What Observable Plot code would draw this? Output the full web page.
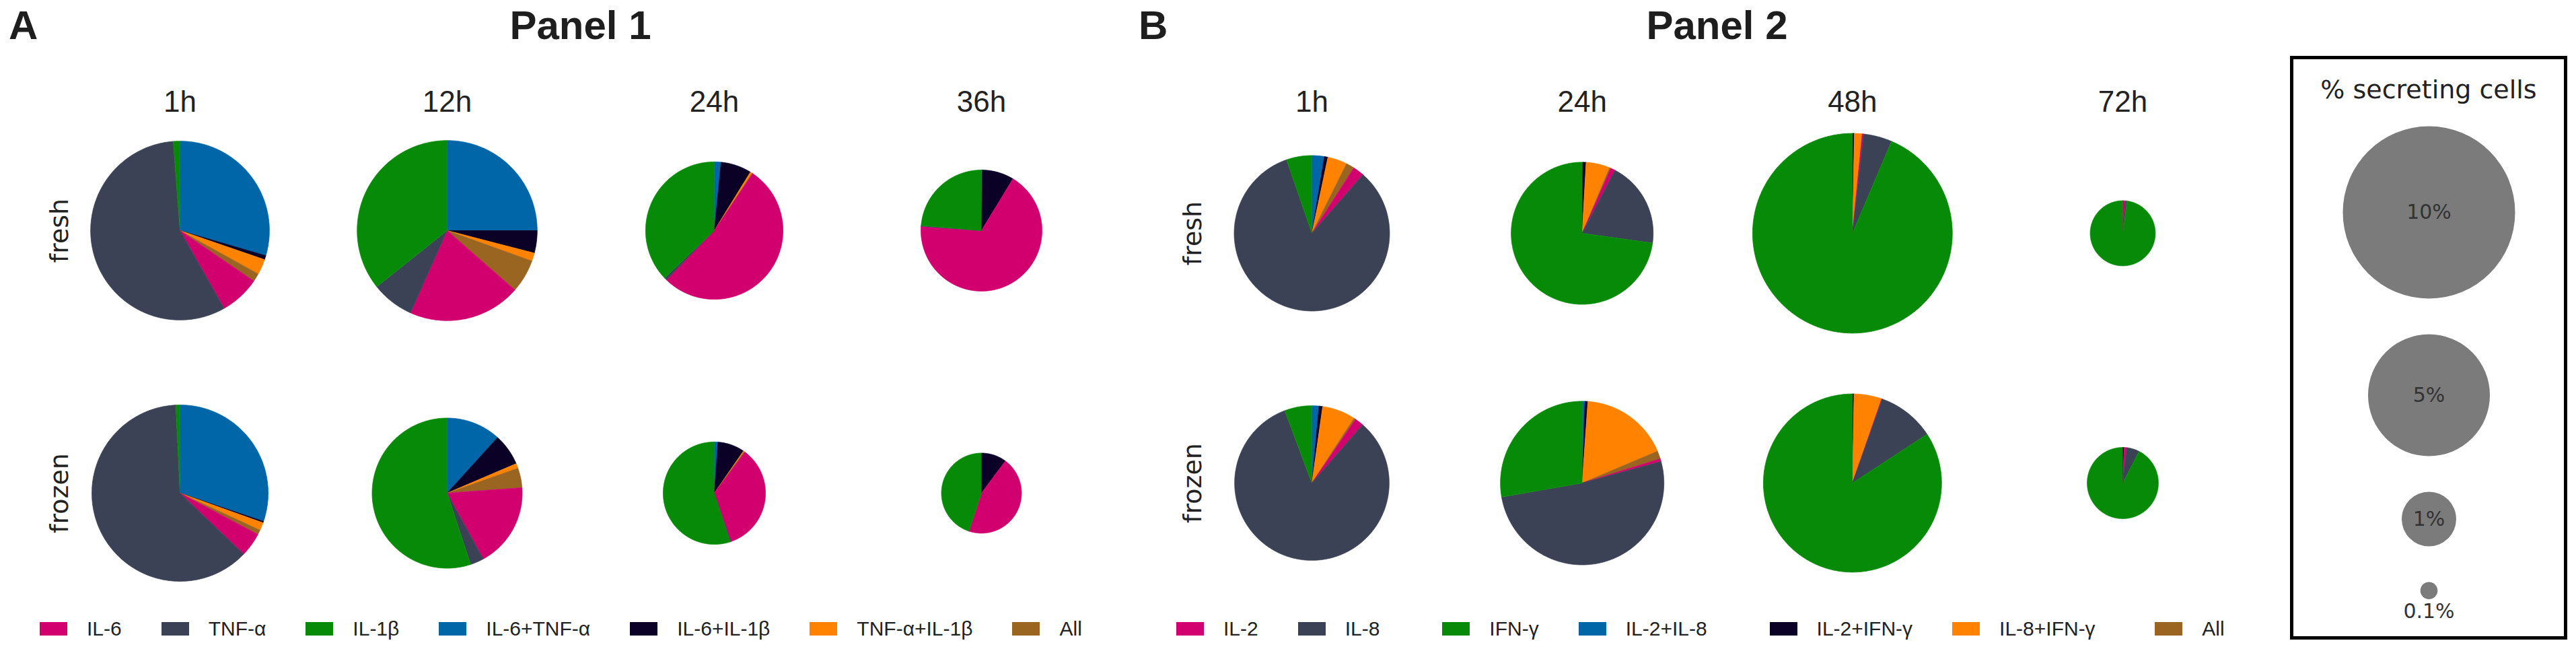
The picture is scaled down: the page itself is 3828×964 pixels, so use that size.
<!DOCTYPE html>
<html><head><meta charset="utf-8">
<script src="https://cdn.jsdelivr.net/npm/d3@7"></script>
<script src="https://cdn.jsdelivr.net/npm/@observablehq/plot@0.6"></script>
<style>
html,body{margin:0;padding:0;background:#fff;}
#page{position:relative;width:3828px;height:964px;overflow:hidden;font-family:"Liberation Sans",Arial,sans-serif;color:#222;}
.head{position:absolute;font-weight:bold;font-size:60px;line-height:60px;color:#1e1e1e;white-space:nowrap;font-family:"Liberation Sans",Arial,sans-serif;}
.leg-swatches{font-family:"Liberation Sans",Arial,sans-serif !important;font-size:30px !important;line-height:1 !important;color:#222;margin:0 !important;min-height:33px;}
.leg-swatch{margin-right:59px !important;}
.leg-swatch > svg{margin-right:29px !important;}
#sizebox{position:absolute;left:3403px;top:83px;width:412px;height:867px;border:5px solid #000;box-sizing:border-box;}
#sizetitle{position:absolute;left:0;right:0;top:26px;text-align:center;font-family:"DejaVu Sans",sans-serif;font-size:38px;line-height:38px;color:#222;white-space:nowrap;}
</style>
</head><body><div id="page"></div>
<script>
// ---------- data ----------
const timesA = ["1h", "12h", "24h", "36h"];
const timesB = ["1h", "24h", "48h", "72h"];
const conditions = ["fresh", "frozen"];
const cytokinesA = ["IL-6", "TNF-α", "IL-1β", "IL-6+TNF-α", "IL-6+IL-1β", "TNF-α+IL-1β", "All"];
const cytokinesB = ["IL-2", "IL-8", "IFN-γ", "IL-2+IL-8", "IL-2+IFN-γ", "IL-8+IFN-γ", "All"];
const palette = ["#d2006e", "#3c4256", "#078a07", "#0066a8", "#0b0026", "#ff8200", "#9a6521"];

// % secreting cells per cytokine (legend order), one row per time point
const panel1Fresh = [
  [0.78, 6.14, 0.13, 3.18, 0.08, 0.30, 0.16],
  [2.21, 0.83, 3.90, 2.73, 0.44, 0.16, 0.65],
  [3.36, 0.04, 2.36, 0.10, 0.46, 0.03, 0.01],
  [3.33, 0.01, 1.17, 0.01, 0.42, 0.00, 0.00]
];
const panel1Frozen = [
  [0.46, 6.50, 0.08, 3.16, 0.03, 0.15, 0.09],
  [1.38, 0.22, 4.18, 0.89, 0.52, 0.08, 0.32],
  [1.22, 0.01, 1.94, 0.04, 0.30, 0.01, 0.01],
  [0.97, 0.00, 0.97, 0.00, 0.22, 0.00, 0.00]
];
const panel2Fresh = [
  [0.19, 6.78, 0.43, 0.21, 0.06, 0.33, 0.14],
  [0.07, 1.33, 4.95, 0.01, 0.05, 0.37, 0.02],
  [0.03, 0.62, 12.58, 0.00, 0.04, 0.17, 0.00],
  [0.02, 0.01, 1.40, 0.00, 0.00, 0.00, 0.00]
];
const panel2Frozen = [
  [0.15, 6.67, 0.46, 0.12, 0.06, 0.56, 0.03],
  [0.05, 4.64, 2.50, 0.05, 0.05, 1.58, 0.14],
  [0.01, 1.11, 9.01, 0.00, 0.03, 0.54, 0.00],
  [0.02, 0.10, 1.58, 0.00, 0.01, 0.00, 0.00]
];
// clockwise slice order from 12 o'clock (indices into cytokine lists)
const sliceOrder = [3, 4, 5, 6, 0, 1, 2];
const sizeLegendValues = [10, 5, 1, 0.1];

// ---------- scales shared ----------
const radiusDomain = [0, 10], radiusRange = [0, 128];
const radius = d3.scaleSqrt().domain(radiusDomain).range(radiusRange);

function piePoints(cats, rows, pxX, pxY) {
  const pts = [];
  rows.forEach((rowVals, ri) => rowVals.forEach((vals, ti) => {
    const rpx = radius(d3.sum(vals));
    const ordered = sliceOrder.map(k => ({cat: cats[k], value: vals[k]}));
    const arcs = d3.pie().sort(null).value(d => d.value)(ordered);
    arcs.forEach((a, si) => {
      const span = a.endAngle - a.startAngle;
      if (!(span > 0)) return;
      const key = ri + "-" + ti + "-" + si;
      pts.push({key, cat: a.data.cat, x: ti, y: ri});
      const n = Math.max(2, Math.ceil(span / (Math.PI / 360)) + 1);
      for (let j = 0; j < n; j++) {
        const ang = a.startAngle + span * j / (n - 1);
        pts.push({key, cat: a.data.cat, x: ti + rpx * Math.sin(ang) / pxX, y: ri - rpx * Math.cos(ang) / pxY});
      }
    });
  }));
  return pts;
}

function panelChart(times, cats, fresh, frozen, o) {
  const pxX = (o.xRange[1] - o.xRange[0]) / (times.length - 1);
  const pxY = (o.yRange[1] - o.yRange[0]) / (conditions.length - 1);
  const data = piePoints(cats, [fresh, frozen], pxX, pxY);
  return Plot.plot({
    width: o.width, height: o.height,
    marginTop: 80, marginLeft: o.marginLeft, marginRight: 0, marginBottom: 0,
    x: {domain: [0, times.length - 1], range: o.xRange, label: null},
    y: {domain: [0, conditions.length - 1], range: o.yRange, label: null},
    color: {type: "ordinal", domain: cats, range: palette},
    style: {fontFamily: "'Liberation Sans', Arial, sans-serif", color: "#222", background: "transparent", overflow: "visible"},
    marks: [
      Plot.line(data, {x: "x", y: "y", z: "key", fill: "cat", stroke: "cat", strokeWidth: 0.8}),
      Plot.axisX({anchor: "top", ticks: d3.range(times.length), tickFormat: i => times[i], tickSize: 0, tickPadding: 10, fontSize: 44, label: null}),
      Plot.axisY({anchor: "left", ticks: d3.range(conditions.length), tickFormat: i => conditions[i], tickSize: 0, tickPadding: 10,
        tickRotate: -90, textAnchor: "middle", lineAnchor: "bottom", fontSize: 38, fontFamily: "DejaVu Sans", label: null})
    ]
  });
}

const page = document.getElementById("page");
function place(el, left, top) {
  el.style.position = "absolute"; el.style.left = left + "px"; el.style.top = top + "px";
  page.appendChild(el); return el;
}
function heading(text, left, top, center) {
  const d = document.createElement("div");
  d.className = "head"; d.textContent = text;
  d.style.left = left + "px"; d.style.top = top + "px";
  if (center) d.style.transform = "translateX(-50%)";
  page.appendChild(d); return d;
}

const leftA = 0, leftB = 1690, svgTop = 95;
const chartA = panelChart(timesA, cytokinesA, panel1Fresh, panel1Frozen,
  {width: 1690, height: 810, xRange: [267, 1458], yRange: [247, 637], marginLeft: 110});
place(chartA, leftA, svgTop);
const chartB = panelChart(timesB, cytokinesB, panel2Fresh, panel2Frozen,
  {width: 1713, height: 810, xRange: [259, 1464], yRange: [251, 622], marginLeft: 104});
place(chartB, leftB, svgTop);

heading("A", 13, 8, false);
heading("Panel 1", leftA + chartA.scale("x").apply(1.5), 8, true);
heading("B", leftB + 2, 8, false);
heading("Panel 2", leftB + chartB.scale("x").apply(1.5), 8, true);

// legends
const legA = chartA.legend("color", {swatchWidth: 41, swatchHeight: 20, className: "leg"});
const legB = chartB.legend("color", {swatchWidth: 41, swatchHeight: 20, className: "leg"});
place(legA, 59, 917);
place(legB, 1748, 917);
const itemsA = legA.querySelectorAll(".leg-swatch");
const itemsB = legB.querySelectorAll(".leg-swatch");
itemsB.forEach((el, i) => { if (itemsA[i]) el.style.minWidth = itemsA[i].getBoundingClientRect().width + "px"; });

// size legend
const box = document.createElement("div"); box.id = "sizebox"; page.appendChild(box);
const title = document.createElement("div"); title.id = "sizetitle"; title.textContent = "% secreting cells"; box.appendChild(title);
const gap = 53;
let cursor = 99;
const sizeData = sizeLegendValues.map(v => {
  const r = radius(v); const cy = cursor + r; cursor = cy + r + gap;
  return {v, r, cy, label: v + "%"};
});
const sizePlot = Plot.plot({
  width: 402, height: 857, margin: 0,
  y: {type: "identity", axis: null},
  r: {type: "sqrt", domain: radiusDomain, range: radiusRange},
  style: {background: "transparent", overflow: "visible"},
  marks: [
    Plot.dot(sizeData, {y: "cy", r: "v", fill: "#7b7b7b"}),
    Plot.text(sizeData.filter(d => d.r >= 30), {y: "cy", text: "label", fontSize: 30, fontFamily: "DejaVu Sans", fill: "#333"}),
    Plot.text(sizeData.filter(d => d.r < 30), {y: d => d.cy + d.r + 7, text: "label", lineAnchor: "top", fontSize: 30, fontFamily: "DejaVu Sans", fill: "#333"})
  ]
});
sizePlot.style.position = "absolute"; sizePlot.style.left = "0px"; sizePlot.style.top = "0px";
box.appendChild(sizePlot);
</script>
</body></html>
